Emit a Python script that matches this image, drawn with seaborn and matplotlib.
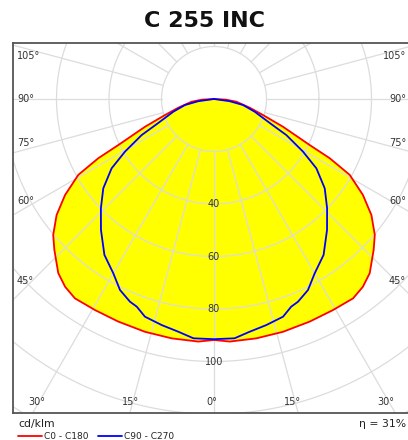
import numpy as np
import matplotlib
matplotlib.use('Agg')
import matplotlib.pyplot as plt
import seaborn as sns
from matplotlib.lines import Line2D

# photometric data (cd/klm), gamma angle from nadir; curves are symmetric
gamma_c0 = [0, 3.7, 10, 16.5, 23.3, 29.4, 34.9, 38.4, 41.8, 46.6, 49.8, 53.6, 57.2, 60.8, 62.9,
            64.3, 68.1, 71.9, 76.3, 83.1, 87, 90]
c0_c180 = [91.8, 92.6, 92.6, 92.5, 92.3, 92.3, 92.6, 91.3, 89.0, 83.7, 80.2, 74.5, 67.5, 59.2, 49.5,
           40.5, 28.3, 19.6, 14.0, 8.6, 4.5, 0.0]
gamma_c90 = [0, 4.9, 8.7, 13.0, 17.6, 20.4, 22.5, 26.2, 30.0, 35.1, 40.8, 46.0, 51.1, 55.9, 59.4,
             63.5, 66.5, 72.7, 78.3, 82, 90]
c90_c270 = [91.5, 91.5, 89.7, 88.4, 87.0, 84.4, 83.6, 81.1, 76.7, 72.6, 65.9, 59.9, 54.2, 47.1, 39.4,
            30.8, 23.5, 16.2, 11.3, 6.0, 0.0]

ring_values = [20, 40, 60, 80, 100, 120, 140, 160, 180, 200]
ring_labels = [40, 60, 80, 100]
side_labels = [105, 90, 75, 60, 45]
bottom_labels = [-30, -15, 0, 15, 30]
title = 'C 255 INC'
unit = 'cd/klm'
efficiency = 'η = 31%'
series_names = ['C0 - C180', 'C90 - C270']


def mirror(g, r):
    g = np.array(g, dtype=float)
    r = np.array(r, dtype=float)
    gg = np.concatenate([-g[::-1], g[1:]])
    rr = np.concatenate([r[::-1], r[1:]])
    return gg, rr


def to_xy(g, r):
    t = np.radians(g)
    return r * np.sin(t), -r * np.cos(t)


sns.set_style('white')
plt.rcParams['font.family'] = ['DejaVu Sans']

W, H = 408, 440
fig = plt.figure(figsize=(W / 100, H / 100), dpi=100)

# axes box in pixels; scale 2.625 px per cd/klm, centre at (214, 99)
px_l, px_r, px_t, px_b = 13, 411, 43, 413
cx, cy, s = 214, 99, 2.625
ax = fig.add_axes([px_l / W, 1 - px_b / H, (px_r - px_l) / W, (px_b - px_t) / H])
ax.set_xlim((px_l - cx) / s, (px_r - cx) / s)
ax.set_ylim(-(px_b - cy) / s, (cy - px_t) / s)
ax.set_xticks([])
ax.set_yticks([])
for side in ['left', 'top', 'bottom']:
    ax.spines[side].set_color('#555555')
    ax.spines[side].set_linewidth(1.3)
ax.spines['right'].set_visible(False)

grid_c = '#dcdcdc'
t = np.linspace(0, 2 * np.pi, 400)
for rv in ring_values:
    ax.plot(rv * np.cos(t), rv * np.sin(t), color=grid_c, lw=0.9, zorder=2)
for a in range(-165, 181, 15):
    xs, ys = to_xy(np.array([a, a]), np.array([20.0, 300.0]))
    ax.plot(xs, ys, color=grid_c, lw=0.9, zorder=2)

g1, r1 = mirror(gamma_c0, c0_c180)
g2, r2 = mirror(gamma_c90, c90_c270)
x1, y1 = to_xy(g1, r1)
x2, y2 = to_xy(g2, r2)

ax.fill(x1, y1, color='#ffff00', zorder=1, lw=0)
sns.lineplot(x=x1, y=y1, sort=False, estimator=None, color='#ff0000', lw=1.3, ax=ax, zorder=4)
sns.lineplot(x=x2, y=y2, sort=False, estimator=None, color='#0000ff', lw=1.3, ax=ax, zorder=4)
ax.set_xlabel('')
ax.set_ylabel('')

lab_kw = dict(fontsize=7, color='#333333', zorder=6, clip_on=False)
for rv in ring_labels:
    ax.text(0, -rv, str(rv), ha='center', va='center', **lab_kw)

yb = ax.get_ylim()[0]
x_left = (17 - cx) / s
x_right = (406 - cx) / s
x_probe = -72.0
for a in side_labels:
    tr = np.radians(a)
    rr = -x_probe / np.sin(tr)
    yy = -rr * np.cos(tr)
    nudge = 2.6 if a < 90 else (0 if a == 90 else -3.0)
    ax.text(x_left, yy + nudge, f'{a}°', ha='left', va='center', **lab_kw)
    ax.text(x_right, yy + nudge, f'{a}°', ha='right', va='center', **lab_kw)
for a in bottom_labels:
    tr = np.radians(a)
    y_probe = yb + 4.2
    xx = -y_probe / np.cos(tr) * np.sin(tr)
    ax.text(xx - 1.0, y_probe, f'{abs(a)}°', ha='center', va='center', **lab_kw)

fig.text(0.5, 1 - 21 / H, title, ha='center', va='center', fontsize=16,
         fontweight='bold', color='#111111')
fig.text(18 / W, 1 - 424 / H, unit, ha='left', va='center', fontsize=7.8, color='#222222')
fig.text(406 / W, 1 - 424 / H, efficiency, ha='right', va='center', fontsize=7.8, color='#222222')

fig.add_artist(Line2D([18 / W, 42 / W], [1 - 436 / H] * 2, color='#ff0000', lw=1.3))
fig.text(44 / W, 1 - 436 / H, series_names[0], ha='left', va='center', fontsize=6.5, color='#222222')
fig.add_artist(Line2D([98 / W, 122 / W], [1 - 436 / H] * 2, color='#0000ff', lw=1.3))
fig.text(124 / W, 1 - 436 / H, series_names[1], ha='left', va='center', fontsize=6.5, color='#222222')

fig.savefig('out.png', dpi=100)
